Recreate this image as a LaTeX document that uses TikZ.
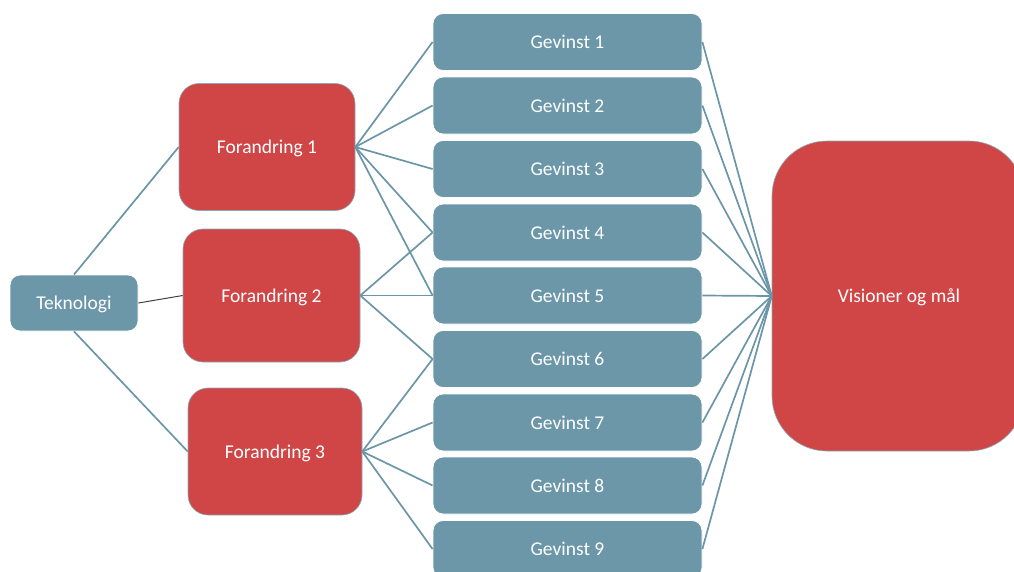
\documentclass[tikz,border=0pt]{standalone}
\usepackage{fontspec}
\setmainfont{Carlito}
\definecolor{slate}{HTML}{6B97A8}
\definecolor{brick}{HTML}{D04646}
\definecolor{wire}{HTML}{6A96A8}
\begin{document}
\begin{tikzpicture}[x=1pt,y=-1pt,
  box/.style={rectangle, inner sep=0pt, text=white, font=\fontsize{19.5}{22}\selectfont, anchor=center, text depth=-1pt},
  bluebox/.style={box, fill=slate, draw=white, line width=0.8pt, rounded corners=10pt},
  redbox/.style={box, fill=brick, draw=wire!80, line width=0.6pt, rounded corners=20pt},
  link/.style={draw=wire, line width=1.7pt},
  thinlink/.style={draw=black!75, line width=1pt}]
\useasboundingbox (0,0) rectangle (1014,571);
% source
\node[bluebox, minimum width=128pt, minimum height=56pt] (tek) at (74,303) {Teknologi};
% changes
\node[redbox, minimum width=176pt, minimum height=127pt] (f1) at (267,147) {Forandring 1};
\node[redbox, minimum width=177pt, minimum height=133pt] (f2) at (271.5,295.5) {Forandring 2};
\node[redbox, minimum width=174pt, minimum height=127pt] (f3) at (275,451.5) {Forandring 3};
% benefits
\foreach \i/\y in {1/42,2/105.5,3/169,4/232.5,5/295.5,6/359,7/422.5,8/485.5,9/549}{
  \node[bluebox, minimum width=269pt, minimum height=57pt] (g\i) at (567.5,\y) {Gevinst \i};
}
% goal
\node[box, fill=brick, draw=wire!80, line width=0.6pt, rounded corners=55pt,
      minimum width=252pt, minimum height=310pt] (vis) at (898,296) {};
\node[box] (vistxt) at (899,296) {Visioner og mål};
% connectors
\draw[link] (tek.north) -- (f1.west);
\draw[thinlink] (tek.east) -- (f2.west);
\draw[link] (tek.south) -- (f3.west);
\foreach \i in {1,...,5}{\draw[link] (f1.east) -- (g\i.west);}
\foreach \i in {4,5,6}{\draw[link] (f2.east) -- (g\i.west);}
\foreach \i in {6,...,9}{\draw[link] (f3.east) -- (g\i.west);}
\foreach \i in {1,...,9}{\draw[link] (g\i.east) -- (vis.west);}
\end{tikzpicture}
\end{document}
